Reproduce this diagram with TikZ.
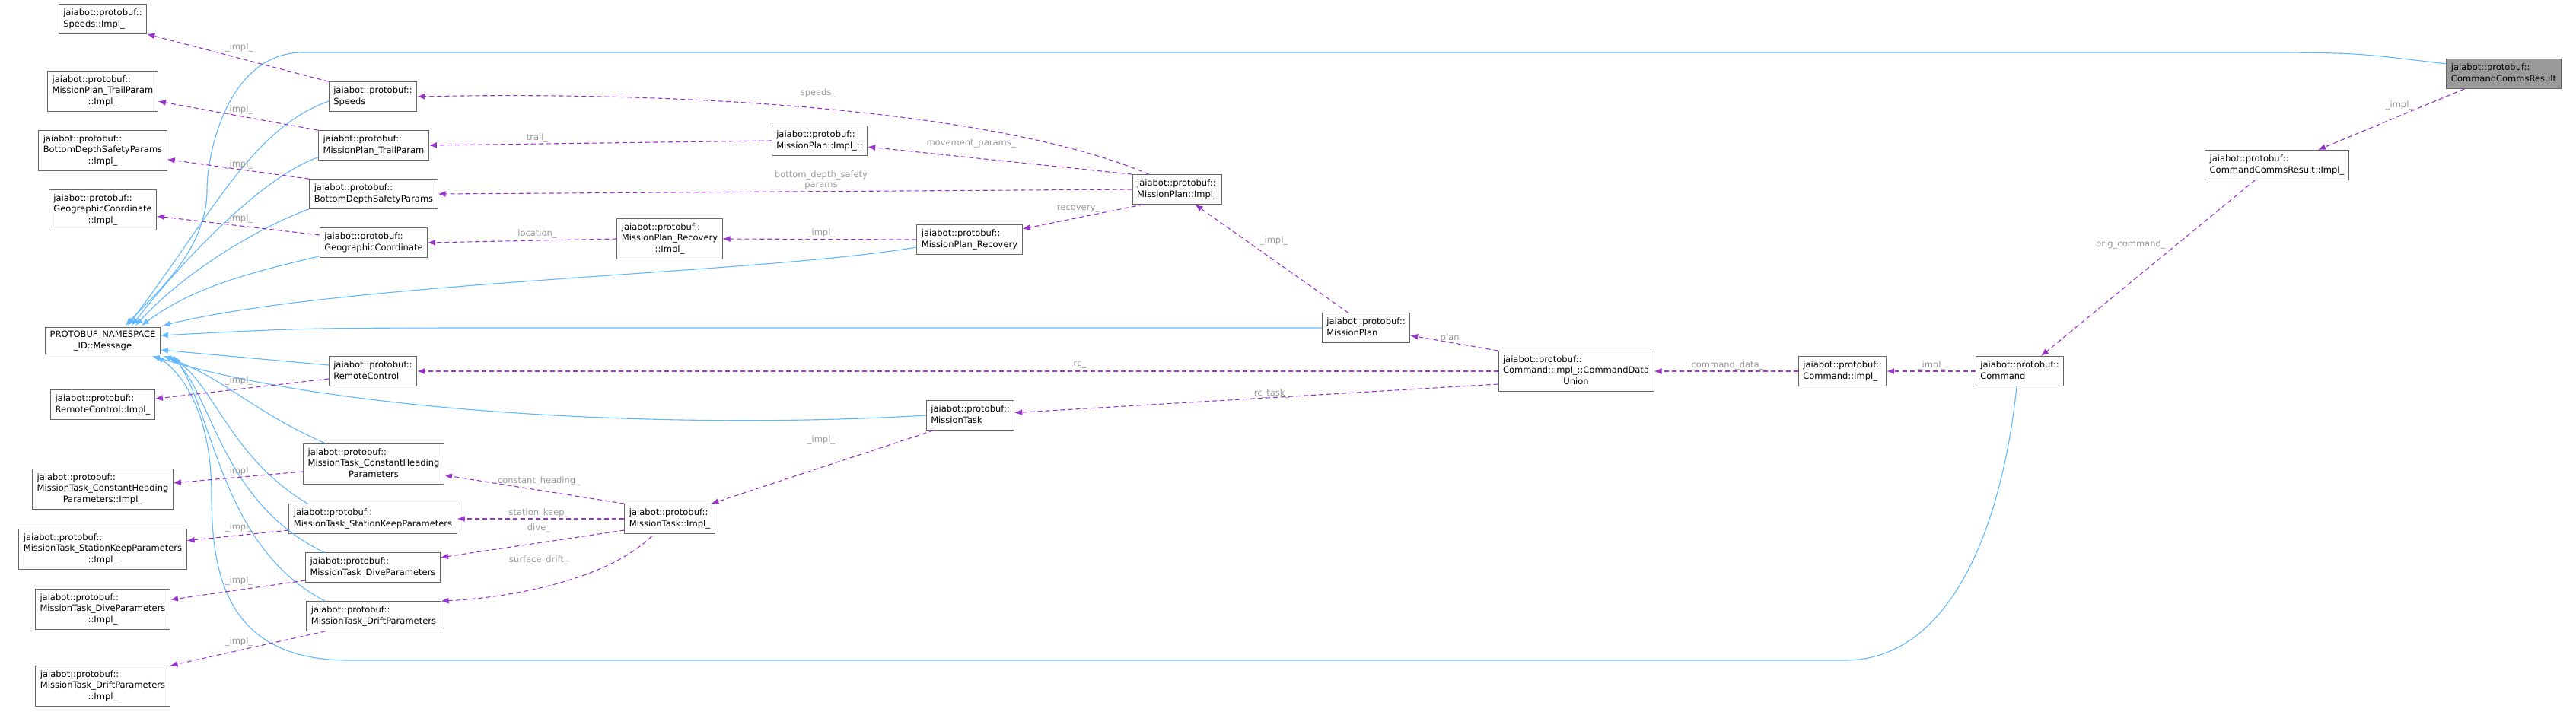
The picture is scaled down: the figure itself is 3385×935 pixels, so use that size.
\documentclass[tikz,border=0pt]{standalone}
\usepackage{fontspec}
\setmainfont{DejaVu Sans}
\usetikzlibrary{arrows.meta,calc}
\definecolor{inhc}{HTML}{63B8FF}
\definecolor{depc}{HTML}{9A32CD}
\definecolor{lblc}{HTML}{9A9A9A}
\definecolor{boxc}{HTML}{666666}
\definecolor{curc}{HTML}{999999}
\newcommand{\jb}[1]{\begin{tabular}{@{}l@{}}jaiabot::protobuf::\\#1\end{tabular}}
\newcommand{\jbc}[2]{\begin{tabular}{@{}l@{}}jaiabot::protobuf::\\#1\\\multicolumn{1}{@{}c@{}}{#2}\end{tabular}}
\tikzset{
  cls/.style={draw=boxc, line width=1pt, fill=white, inner xsep=6pt, inner ysep=5pt,
    font=\fontsize{11.5}{14.3}\selectfont},
  inh/.style={draw=inhc, line width=1.1pt, -{Latex[length=10pt,width=8pt]}},
  dep/.style={draw=depc, line width=1.1pt, dash pattern=on 6pt off 4pt, -{Latex[length=10pt,width=8pt]}},
  lbl/.style={text=lblc, inner sep=1pt, font=\fontsize{11.5}{13}\selectfont, align=center}
}
\begin{document}
\begin{tikzpicture}[x=1pt,y=-1pt]
    \useasboundingbox[fill=white] (0,0) rectangle (3385,935);

    % Left column: implementation classes and the base message
    \node[cls] (spdimpl) at (135,25)  {\jb{Speeds::Impl\_}};
    \node[cls] (trlimpl) at (135,120) {\jbc{MissionPlan\_TrailParam}{::Impl\_}};
    \node[cls] (bdpimpl) at (135,198) {\jbc{BottomDepthSafetyParams}{::Impl\_}};
    \node[cls] (geoimpl) at (135,276) {\jbc{GeographicCoordinate}{::Impl\_}};
    \node[cls, align=center] (msg) at (135,448) {PROTOBUF\_NAMESPACE\\\_ID::Message};
    \node[cls] (rcimpl)  at (135,532) {\jb{RemoteControl::Impl\_}};
    \node[cls] (chimpl)  at (135,643) {\jbc{MissionTask\_ConstantHeading}{Parameters::Impl\_}};
    \node[cls] (skimpl)  at (135,722) {\jbc{MissionTask\_StationKeepParameters}{::Impl\_}};
    \node[cls] (dvimpl)  at (135,801) {\jbc{MissionTask\_DiveParameters}{::Impl\_}};
    \node[cls] (drimpl)  at (135,902) {\jbc{MissionTask\_DriftParameters}{::Impl\_}};

    % Second column: message classes
    \node[cls] (speeds) at (490,127) {\jb{Speeds}};
    \node[cls] (trail)  at (491,191) {\jb{MissionPlan\_TrailParam}};
    \node[cls] (bdsp)   at (491,255) {\jb{BottomDepthSafetyParams}};
    \node[cls] (geo)    at (491,319) {\jb{GeographicCoordinate}};
    \node[cls] (rc)     at (490,488) {\jb{RemoteControl}};
    \node[cls] (ch)     at (491,610) {\jbc{MissionTask\_ConstantHeading}{Parameters}};
    \node[cls] (sk)     at (490,682) {\jb{MissionTask\_StationKeepParameters}};
    \node[cls] (dive)   at (490,746) {\jb{MissionTask\_DiveParameters}};
    \node[cls] (drift)  at (491,810) {\jb{MissionTask\_DriftParameters}};

    % Middle and right
    \node[cls] (mpu)     at (1077,185) {\jb{MissionPlan::Impl\_::}\\[-2pt]};
    \node[cls] (recimpl) at (880,314)  {\jbc{MissionPlan\_Recovery}{::Impl\_}};
    \node[cls] (rec)     at (1274,315) {\jb{MissionPlan\_Recovery}};
    \node[cls] (mpimpl)  at (1547,249) {\jb{MissionPlan::Impl\_}};
    \node[cls] (mp)      at (1795,431) {\jb{MissionPlan}};
    \node[cls] (mt)      at (1275,546) {\jb{MissionTask}};
    \node[cls] (mtimpl)  at (880,682)  {\jb{MissionTask::Impl\_}};
    \node[cls] (cdu)     at (2071,488) {\jbc{Command::Impl\_::CommandData}{Union}};
    \node[cls] (cmdimpl) at (2421,488) {\jb{Command::Impl\_}};
    \node[cls] (cmd)     at (2654,488) {\jb{Command}};
    \node[cls] (ccrimpl) at (2992,217) {\jb{CommandCommsResult::Impl\_}};
    \node[cls, fill=curc] (ccr) at (3290,97) {\jb{CommandCommsResult}};

    % Inheritance from the base message
    \draw[inh] ($(ccr.west)+(0,-13)$) .. controls (3100,70) .. (3003,69) -- (398,69)
        .. controls (300,69) and (272,200) .. (272,250) .. controls (272,330) and (200,390) .. (165,428);
    \draw[inh] ($(speeds.west)+(0,6)$) .. controls (330,170) and (280,280) .. (168,428);
    \draw[inh] ($(trail.south west)+(0,-4)$) .. controls (350,230) and (250,330) .. (173,428);
    \draw[inh] (bdsp.south west) .. controls (350,295) and (250,350) .. (178,428);
    \draw[inh] ($(geo.south west)+(0,-2)$) .. controls (320,360) and (250,380) .. (186,428);
    \draw[inh] ($(rec.west)+(0,10)$) .. controls (1000,360) and (450,370) .. (214,428);
    \draw[inh] (mp.west) -- (700,431) .. controls (400,431) .. ($(msg.east)+(0,-7)$);
    \draw[inh] ($(rc.west)+(0,-8)$) -- ($(msg.east)+(0,12)$);
    \draw[inh] (mt.west) .. controls (900,565) and (450,545) .. (200,468);
    \draw[inh] ($(ch.north west)+(30,0)$) .. controls (330,540) and (300,500) .. (215,468);
    \draw[inh] ($(sk.north west)+(25,0)$) .. controls (300,600) and (280,500) .. (220,468);
    \draw[inh] ($(dive.north west)+(25,0)$) .. controls (290,660) and (280,520) .. (224,468);
    \draw[inh] ($(drift.north west)+(25,0)$) .. controls (290,720) and (280,540) .. (228,468);
    \draw[inh] ($(cmd.south)+(-4,0)$) .. controls (2630,700) and (2560,868) .. (2424,868) -- (459,868)
        .. controls (300,868) and (278,760) .. (278,650) .. controls (278,560) and (250,500) .. (206,468);

    % Members: implementation pointers
    \draw[dep] (speeds.north west) -- (spdimpl.south east) node[lbl] at (314,62) {\_impl\_};
    \draw[dep] (trail.north west) -- (trlimpl) node[lbl] at (314,144) {\_impl\_};
    \draw[dep] (bdsp.north west) -- (bdpimpl) node[lbl] at (314,216) {\_impl\_};
    \draw[dep] ($(geo.west)+(0,-10)$) -- (geoimpl) node[lbl] at (314,287) {\_impl\_};
    \draw[dep] ($(rc.west)+(0,10)$) -- (rcimpl) node[lbl] at (314,500) {\_impl\_};
    \draw[dep] ($(ch.west)+(0,10)$) -- (chimpl) node[lbl] at (314,619) {\_impl\_};
    \draw[dep] ($(sk.west)+(0,15)$) -- (skimpl) node[lbl] at (314,693) {\_impl\_};
    \draw[dep] ($(dive.west)+(0,17)$) -- (dvimpl) node[lbl] at (314,763) {\_impl\_};
    \draw[dep] ($(drift.south west)+(25,0)$) -- (drimpl.north east) node[lbl] at (314,843) {\_impl\_};

    % Mission plan members
    \draw[dep] ($(mpimpl.north west)+(22,0)$) .. controls (1350,160) and (1000,118) .. (speeds.east)
        node[lbl] at (1075,122) {speeds\_};
    \draw[dep] (mpimpl.north west) -- ($(mpu.east)+(0,8)$) node[lbl] at (1276,189) {movement\_params\_};
    \draw[dep] (mpimpl.west) -- (bdsp.east) node[lbl] at (1079,237) {bottom\_depth\_safety\\\_params\_};
    \draw[dep] ($(mpimpl.south west)+(15,0)$) -- (rec) node[lbl] at (1417,275) {recovery\_};
    \draw[dep] (mpu.west) -- (trail.east) node[lbl] at (706,181) {trail\_};
    \draw[dep] (recimpl.west) -- (geo.east) node[lbl] at (706,307) {location\_};
    \draw[dep] (rec.west) -- (recimpl.east) node[lbl] at (1079,306) {\_impl\_};
    \draw[dep] ($(mp.north west)+(35,0)$) -- ($(mpimpl.south east)+(-36,0)$) node[lbl] at (1674,316) {\_impl\_};

    % Command members
    \draw[dep] (cdu.north west) -- (mp) node[lbl] at (1908,444) {plan\_};
    \draw[dep] (cdu.west) -- (rc.east) node[lbl] at (1419,480) {rc\_};
    \draw[dep] ($(cdu.west)+(0,17)$) -- (mt) node[lbl] at (1671,517) {rc\_task\_};
    \draw[dep] ($(mt.south west)+(10,0)$) -- ($(mtimpl.north east)+(-5,0)$) node[lbl] at (1079,578) {\_impl\_};
    \draw[dep] (mtimpl.north west) -- (ch) node[lbl] at (708,632) {constant\_heading\_};
    \draw[dep] (mtimpl.west) -- (sk.east) node[lbl] at (708,674) {station\_keep\_};
    \draw[dep] ($(mtimpl.west)+(0,15)$) -- (dive) node[lbl] at (708,694) {dive\_};
    \draw[dep] ($(mtimpl.south west)+(36,3)$) .. controls (800,760) and (680,785) .. (drift.north east)
        node[lbl] at (708,736) {surface\_drift\_};
    \draw[dep] (cmdimpl.west) -- (cdu.east) node[lbl] at (2270,480) {command\_data\_};
    \draw[dep] (cmd.west) -- (cmdimpl.east) node[lbl] at (2538,480) {\_impl\_};
    \draw[dep] (2963,237) -- (2682,468) node[lbl] at (2800,321) {orig\_command\_};
    \draw[dep] (3238,117) -- (3046,197) node[lbl] at (3153,138) {\_impl\_};
\end{tikzpicture}
\end{document}
